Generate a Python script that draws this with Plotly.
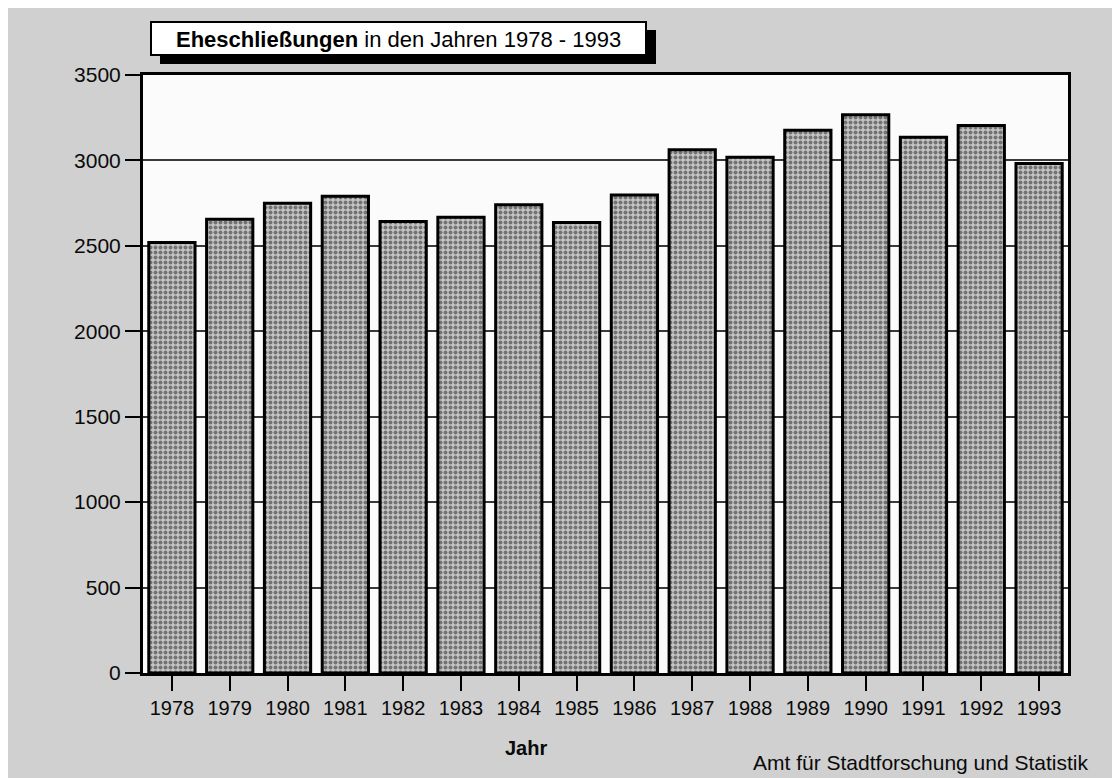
import plotly.graph_objects as go

years = ["1978", "1979", "1980", "1981", "1982", "1983", "1984", "1985",
         "1986", "1987", "1988", "1989", "1990", "1991", "1992", "1993"]
marriages = [2520, 2655, 2750, 2790, 2642, 2668, 2740, 2636,
             2798, 3063, 3018, 3177, 3268, 3135, 3205, 2982]
y_ticks = [0, 500, 1000, 1500, 2000, 2500, 3000, 3500]

title_bold = "Eheschließungen"
title_rest = "in den Jahren 1978 - 1993"
x_title = "Jahr"
source = "Amt für Stadtforschung und Statistik"

OFF = 8  # page body margin
W, H = 1120 - OFF, 778 - OFF
L, R, T, B = 143, 1068, 75, 673  # plot area in reference pixel coords


def px(x):
    return (x - L) / (R - L)


def py(y):
    return (B - y) / (B - T)


FONT = "Liberation Sans, Arial, sans-serif"

fig = go.Figure()
fig.add_trace(go.Bar(
    x=years, y=marriages,
    marker=dict(
        color="#b0b0b0",
        line=dict(color="#000000", width=3),
        pattern=dict(shape=".", fgcolor="#222222", bgcolor="#c4c4c4",
                     size=5, solidity=0.5),
    ),
    hoverinfo="x+y",
))

fig.update_layout(
    width=W, height=H,
    margin=dict(l=L - OFF, r=1120 - R, t=T - OFF, b=778 - B),
    paper_bgcolor="#d0d0d0",
    plot_bgcolor="#fbfbfb",
    bargap=0.2,
    showlegend=False,
    font=dict(family=FONT, color="#0a0a0a", size=21),
)

fig.update_xaxes(
    type="category",
    showline=True, linecolor="#000000", linewidth=3, mirror=True,
    ticks="outside", ticklen=15, tickwidth=1.5, tickcolor="#000000",
    tickfont=dict(size=20, family=FONT, color="#0a0a0a"),
    showgrid=False,
)
fig.update_yaxes(
    range=[0, 3500], tickvals=y_ticks,
    showline=True, linecolor="#000000", linewidth=3, mirror=True,
    ticks="outside", ticklen=15, tickwidth=1.5, tickcolor="#000000",
    tickfont=dict(size=21, family=FONT, color="#0a0a0a"),
    showgrid=True, gridcolor="#3a3a3a", gridwidth=1.5,
    zeroline=False,
)

# Title box with drop shadow
fig.add_shape(type="rect", xref="paper", yref="paper",
              x0=px(160), x1=px(656), y0=py(64), y1=py(30),
              fillcolor="#000000", line=dict(width=0), layer="above")
fig.add_shape(type="rect", xref="paper", yref="paper",
              x0=px(151), x1=px(646), y0=py(55), y1=py(22),
              fillcolor="#ffffff", line=dict(color="#000000", width=2), layer="above")
fig.add_annotation(xref="paper", yref="paper", x=px(398), y=py(39),
                   text=f"<b>{title_bold}</b> {title_rest}",
                   showarrow=False, xanchor="center", yanchor="middle",
                   font=dict(size=22, family=FONT, color="#000000"))

fig.add_annotation(xref="paper", yref="paper", x=px(526), y=py(748),
                   text=f"<b>{x_title}</b>", showarrow=False,
                   xanchor="center", yanchor="middle",
                   font=dict(size=20, family=FONT, color="#0a0a0a"))
fig.add_annotation(xref="paper", yref="paper", x=px(1090), y=py(762),
                   text=source, showarrow=False,
                   xanchor="right", yanchor="middle",
                   font=dict(size=21, family=FONT, color="#0a0a0a"))

fig.write_html("out.html")
